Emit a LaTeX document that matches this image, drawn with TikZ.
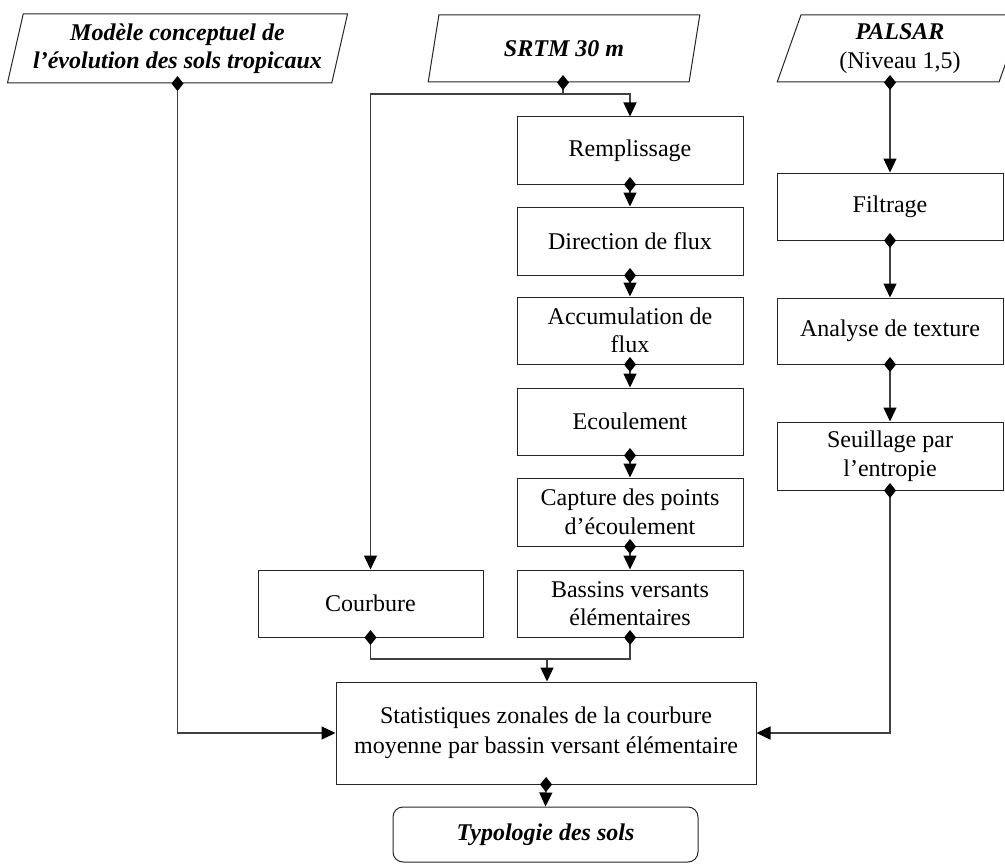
\documentclass[tikz,border=0pt]{standalone}
\usepackage{fontspec}
\setmainfont{Liberation Serif}
\usetikzlibrary{arrows.meta,shapes.geometric}
\begin{document}
\begin{tikzpicture}[x=1pt,y=-1pt,
  txt/.style={font=\fontsize{24}{28.5}\selectfont},
  box/.style={txt, draw=black!85, line width=1pt, minimum width=226pt, minimum height=67pt, align=center, inner sep=2pt},
  para/.style={txt, trapezium, trapezium left angle=74, trapezium right angle=106, trapezium stretches=true, draw=black!85, line width=1pt, align=center, inner sep=1pt},
  ln/.style={draw=black!75, line width=1.4pt},
  dia/.style={{Diamond[length=15pt,width=12pt,color=black]}-, shorten <=-7.5pt},
  tri/.style={-{Triangle[length=14pt,width=13pt,color=black]}},
  diatri/.style={{Diamond[length=15pt,width=12pt,color=black]}-{Triangle[length=14pt,width=13pt,color=black]}, shorten <=-7.5pt},
  diadia/.style={{Diamond[length=15pt,width=12pt,color=black]}-{Diamond[length=15pt,width=12pt,color=black]}, shorten <=-7.5pt, shorten >=-7.5pt}
]
\useasboundingbox (0,0) rectangle (1005,867);
\clip (0,0) rectangle (1005,867);

% inputs
\node[para, minimum width=341pt, minimum height=69pt, font=\fontsize{24}{28}\selectfont\bfseries\itshape] (mc) at (177.5,48.5) {Modèle conceptuel de\\l’évolution des sols tropicaux};
\node[para, minimum width=272pt, minimum height=67pt, font=\fontsize{24}{28}\selectfont\bfseries\itshape] (srtm) at (564,48.5) {SRTM 30 m};
\node[para, minimum width=246pt, minimum height=67pt] (pal) at (900,48.5) {{\bfseries\itshape PALSAR}\\(Niveau 1,5)};

% middle column
\node[box] (rem) at (630,150.5) {Remplissage};
\node[box, minimum height=68pt] (dir) at (630,241) {Direction de flux};
\node[box] (acc) at (630,330.5) {Accumulation de\\flux};
\node[box] (eco) at (630,421.5) {Ecoulement};
\node[box, minimum height=68pt] (cap) at (630,512) {Capture des points\\d’écoulement};
\node[box] (bas) at (630,603.5) {Bassins versants\\élémentaires};
\node[box, minimum width=225pt] (cou) at (370.5,603.5) {Courbure};

% right column
\node[box] (fil) at (890,206.5) {Filtrage};
\node[box, minimum height=66pt] (ana) at (890,331) {Analyse de texture};
\node[box, minimum height=68pt] (seu) at (890,456) {Seuillage par\\l’entropie};

% bottom
\node[box, minimum width=420pt, minimum height=102pt, font=\fontsize{24}{30}\selectfont] (stat) at (546,733) {Statistiques zonales de la courbure\\moyenne par bassin versant élémentaire};
\node[box, minimum width=305pt, minimum height=55pt, rounded corners=10pt, font=\fontsize{24}{28}\selectfont\bfseries\itshape] (typ) at (545.5,834.5) {Typologie des sols};

% junction coordinates
\coordinate (sj) at (563,94);
\coordinate (cj) at (547,659);

% connectors
\draw[ln, diatri] (mc.center |- mc.south) |- (stat.west);
\draw[ln, dia] (sj |- srtm.south) -- (sj);
\draw[ln, tri] (sj) -| (cou.north);
\draw[ln, tri] (sj) -| (rem.north);
\draw[ln, diatri] (rem.south) -- (dir.north);
\draw[ln, diatri] (dir.south) -- (acc.north);
\draw[ln, diatri] (acc.south) -- (eco.north);
\draw[ln, diatri] (eco.south) -- (cap.north);
\draw[ln, diatri] (cap.south) -- (bas.north);
\draw[ln, diadia] (cou.south) |- (cj) -| (bas.south);
\draw[ln, tri] (cj) -- (stat.north -| cj);
\draw[ln, diatri] (fil |- pal.south) -- (fil.north);
\draw[ln, diatri] (fil.south) -- (ana.north);
\draw[ln, diatri] (ana.south) -- (seu.north);
\draw[ln, diatri] (seu.south) |- (stat.east);
\draw[ln, diatri] (stat.south) -- (typ.north);
\end{tikzpicture}
\end{document}
